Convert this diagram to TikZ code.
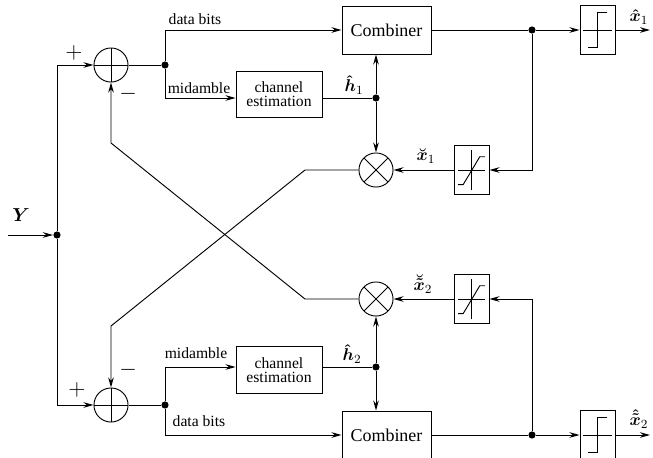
\documentclass[tikz,border=0pt]{standalone}
\usepackage{amsmath}
\usepackage{fontspec}
\setmainfont{Liberation Serif}
\usetikzlibrary{arrows.meta}

\begin{document}
\begin{tikzpicture}[x=0.64pt, y=-0.64pt,
  every path/.style={line width=0.6pt},
  >={Stealth[length=6.5pt,width=3.6pt,inset=2.2pt]},
  lbl/.style={font=\fontsize{10}{12}\selectfont, inner sep=0pt},
  mlbl/.style={font=\fontsize{11}{13}\selectfont, inner sep=0pt},
  sgn/.style={font=\fontsize{14}{16}\selectfont, inner sep=0pt},
  blockbox/.style={draw, inner sep=0pt, align=center, font=\fontsize{10}{11}\selectfont},
  estbox/.style={blockbox, minimum width=55pt, minimum height=30pt},
  combbox/.style={blockbox, minimum width=57pt, minimum height=30.7pt, font=\fontsize{11.5}{13}\selectfont},
  dot/.style={circle, fill, inner sep=0pt, minimum size=4.6pt},
  adder/.style={circle, draw, inner sep=0pt, minimum size=21.8pt, path picture={
      \draw (path picture bounding box.north) -- (path picture bounding box.south)
            (path picture bounding box.west) -- (path picture bounding box.east);}},
  mixer/.style={circle, draw, inner sep=0pt, minimum size=21.8pt, path picture={
      \draw (path picture bounding box.north west) -- (path picture bounding box.south east)
            (path picture bounding box.north east) -- (path picture bounding box.south west);}},
  hardbox/.style={draw, inner sep=0pt, minimum width=22.4pt, minimum height=31.4pt, path picture={
      \begin{scope}[shift={(path picture bounding box.center)}]
        \draw (-9pt,0pt) -- (9pt,0pt);
        \draw (6.1pt,11.2pt) -- (0pt,11.2pt) -- (0pt,-11.2pt) -- (-6.4pt,-11.2pt);
      \end{scope}}},
  softbox/.style={draw, inner sep=0pt, minimum width=22.4pt, minimum height=31.4pt, path picture={
      \begin{scope}[shift={(path picture bounding box.center)}]
        \draw (-8.8pt,0pt) -- (8.8pt,0pt);
        \draw (0pt,-13pt) -- (0pt,13pt);
        \draw (-8.5pt,-9.3pt) -- (-5.3pt,-9.3pt) -- (5.3pt,8.5pt) -- (8.5pt,8.5pt);
      \end{scope}}}
]
\useasboundingbox (0,0) rectangle (653,457);

% ---- blocks ----
\node[adder] (add1) at (111,65) {};
\node[adder] (add2) at (111,405) {};
\node[estbox] (ce1) at (279,94.5) {channel\\[-2pt]estimation};
\node[estbox] (ce2) at (279,370) {channel\\[-2pt]estimation};
\node[combbox] (comb1) at (386.5,30) {Combiner};
\node[combbox] (comb2) at (386.5,435) {Combiner};
\node[mixer] (mul1) at (376,170) {};
\node[mixer] (mul2) at (376,299) {};
\node[hardbox] (dec1) at (597.5,30) {};
\node[hardbox] (dec2) at (597.5,435) {};
\node[softbox] (soft1) at (471.5,170) {};
\node[softbox] (soft2) at (471.5,299) {};

% ---- junctions ----
\node[dot] (yin) at (57,235) {};
\node[dot] (s1) at (165,65) {};
\node[dot] (s2) at (165,405) {};
\node[dot] (h1) at (376,98) {};
\node[dot] (h2) at (376,367) {};
\node[dot] (o1) at (532,30) {};
\node[dot] (o2) at (532,435) {};
\coordinate (yleft) at (8,235);
\coordinate (out1) at (650,30);
\coordinate (out2) at (650,435);
\coordinate (ca) at (305,170);
\coordinate (cb) at (111,326);
\coordinate (cc) at (111,143);
\coordinate (ce) at (305,299);

% ---- input ----
\draw[->] (yleft) -- (yin);
\draw[->] (yin) |- (add1.west);
\draw[->] (yin) |- (add2.west);

% ---- upper branch ----
\draw (add1.east) -- (s1);
\draw[->] (s1) |- (comb1.west);
\draw[->] (s1) |- (ce1.west |- h1);
\draw (ce1.east |- h1) -- (h1);
\draw[->] (h1) -- (h1 |- comb1.south);
\draw[->] (h1) -- (mul1.north);
\draw (comb1.east) -- (o1);
\draw[->] (o1) -- (dec1.west);
\draw[->] (dec1.east) -- (out1);
\draw[->] (o1) |- (soft1.east);
\draw[->] (soft1.west) -- (mul1.east);

% ---- lower branch ----
\draw (add2.east) -- (s2);
\draw[->] (s2) |- (comb2.west);
\draw[->] (s2) |- (ce2.west |- h2);
\draw (ce2.east |- h2) -- (h2);
\draw[->] (h2) -- (h2 |- comb2.north);
\draw[->] (h2) -- (mul2.south);
\draw (comb2.east) -- (o2);
\draw[->] (o2) -- (dec2.west);
\draw[->] (dec2.east) -- (out2);
\draw[->] (o2) |- (soft2.east);
\draw[->] (soft2.west) -- (mul2.east);

% ---- cross-coupled interference cancellation ----
\draw[->] (mul1.west) -- (ca) -- (cb) -- (add2.north);
\draw[->] (mul2.west) -- (ce) -- (cc) -- (add1.south);

% ---- labels ----
\node[mlbl, font=\fontsize{12.5}{14}\selectfont] at (21,215) {$\boldsymbol{Y}$};
\node[sgn] at (74,53) {$+$};
\node[sgn] at (128,94) {$-$};
\node[sgn] at (77,390) {$+$};
\node[sgn] at (128,370) {$-$};
\node[lbl] at (195,19) {data bits};
\node[lbl] at (199,88) {midamble};
\node[lbl] at (196,353) {midamble};
\node[lbl] at (199,421) {data bits};
\node[mlbl] at (354,85) {$\boldsymbol{\hat{h}}_1$};
\node[mlbl] at (352,354) {$\boldsymbol{\hat{h}}_2$};
\node[mlbl] at (426,156) {$\boldsymbol{\breve{x}}_1$};
\node[mlbl] at (423,284) {$\boldsymbol{\breve{\tilde{x}}}_2$};
\node[mlbl] at (639,17) {$\boldsymbol{\hat{x}}_1$};
\node[mlbl] at (639,419) {$\boldsymbol{\hat{\tilde{x}}}_2$};
\end{tikzpicture}
\end{document}
